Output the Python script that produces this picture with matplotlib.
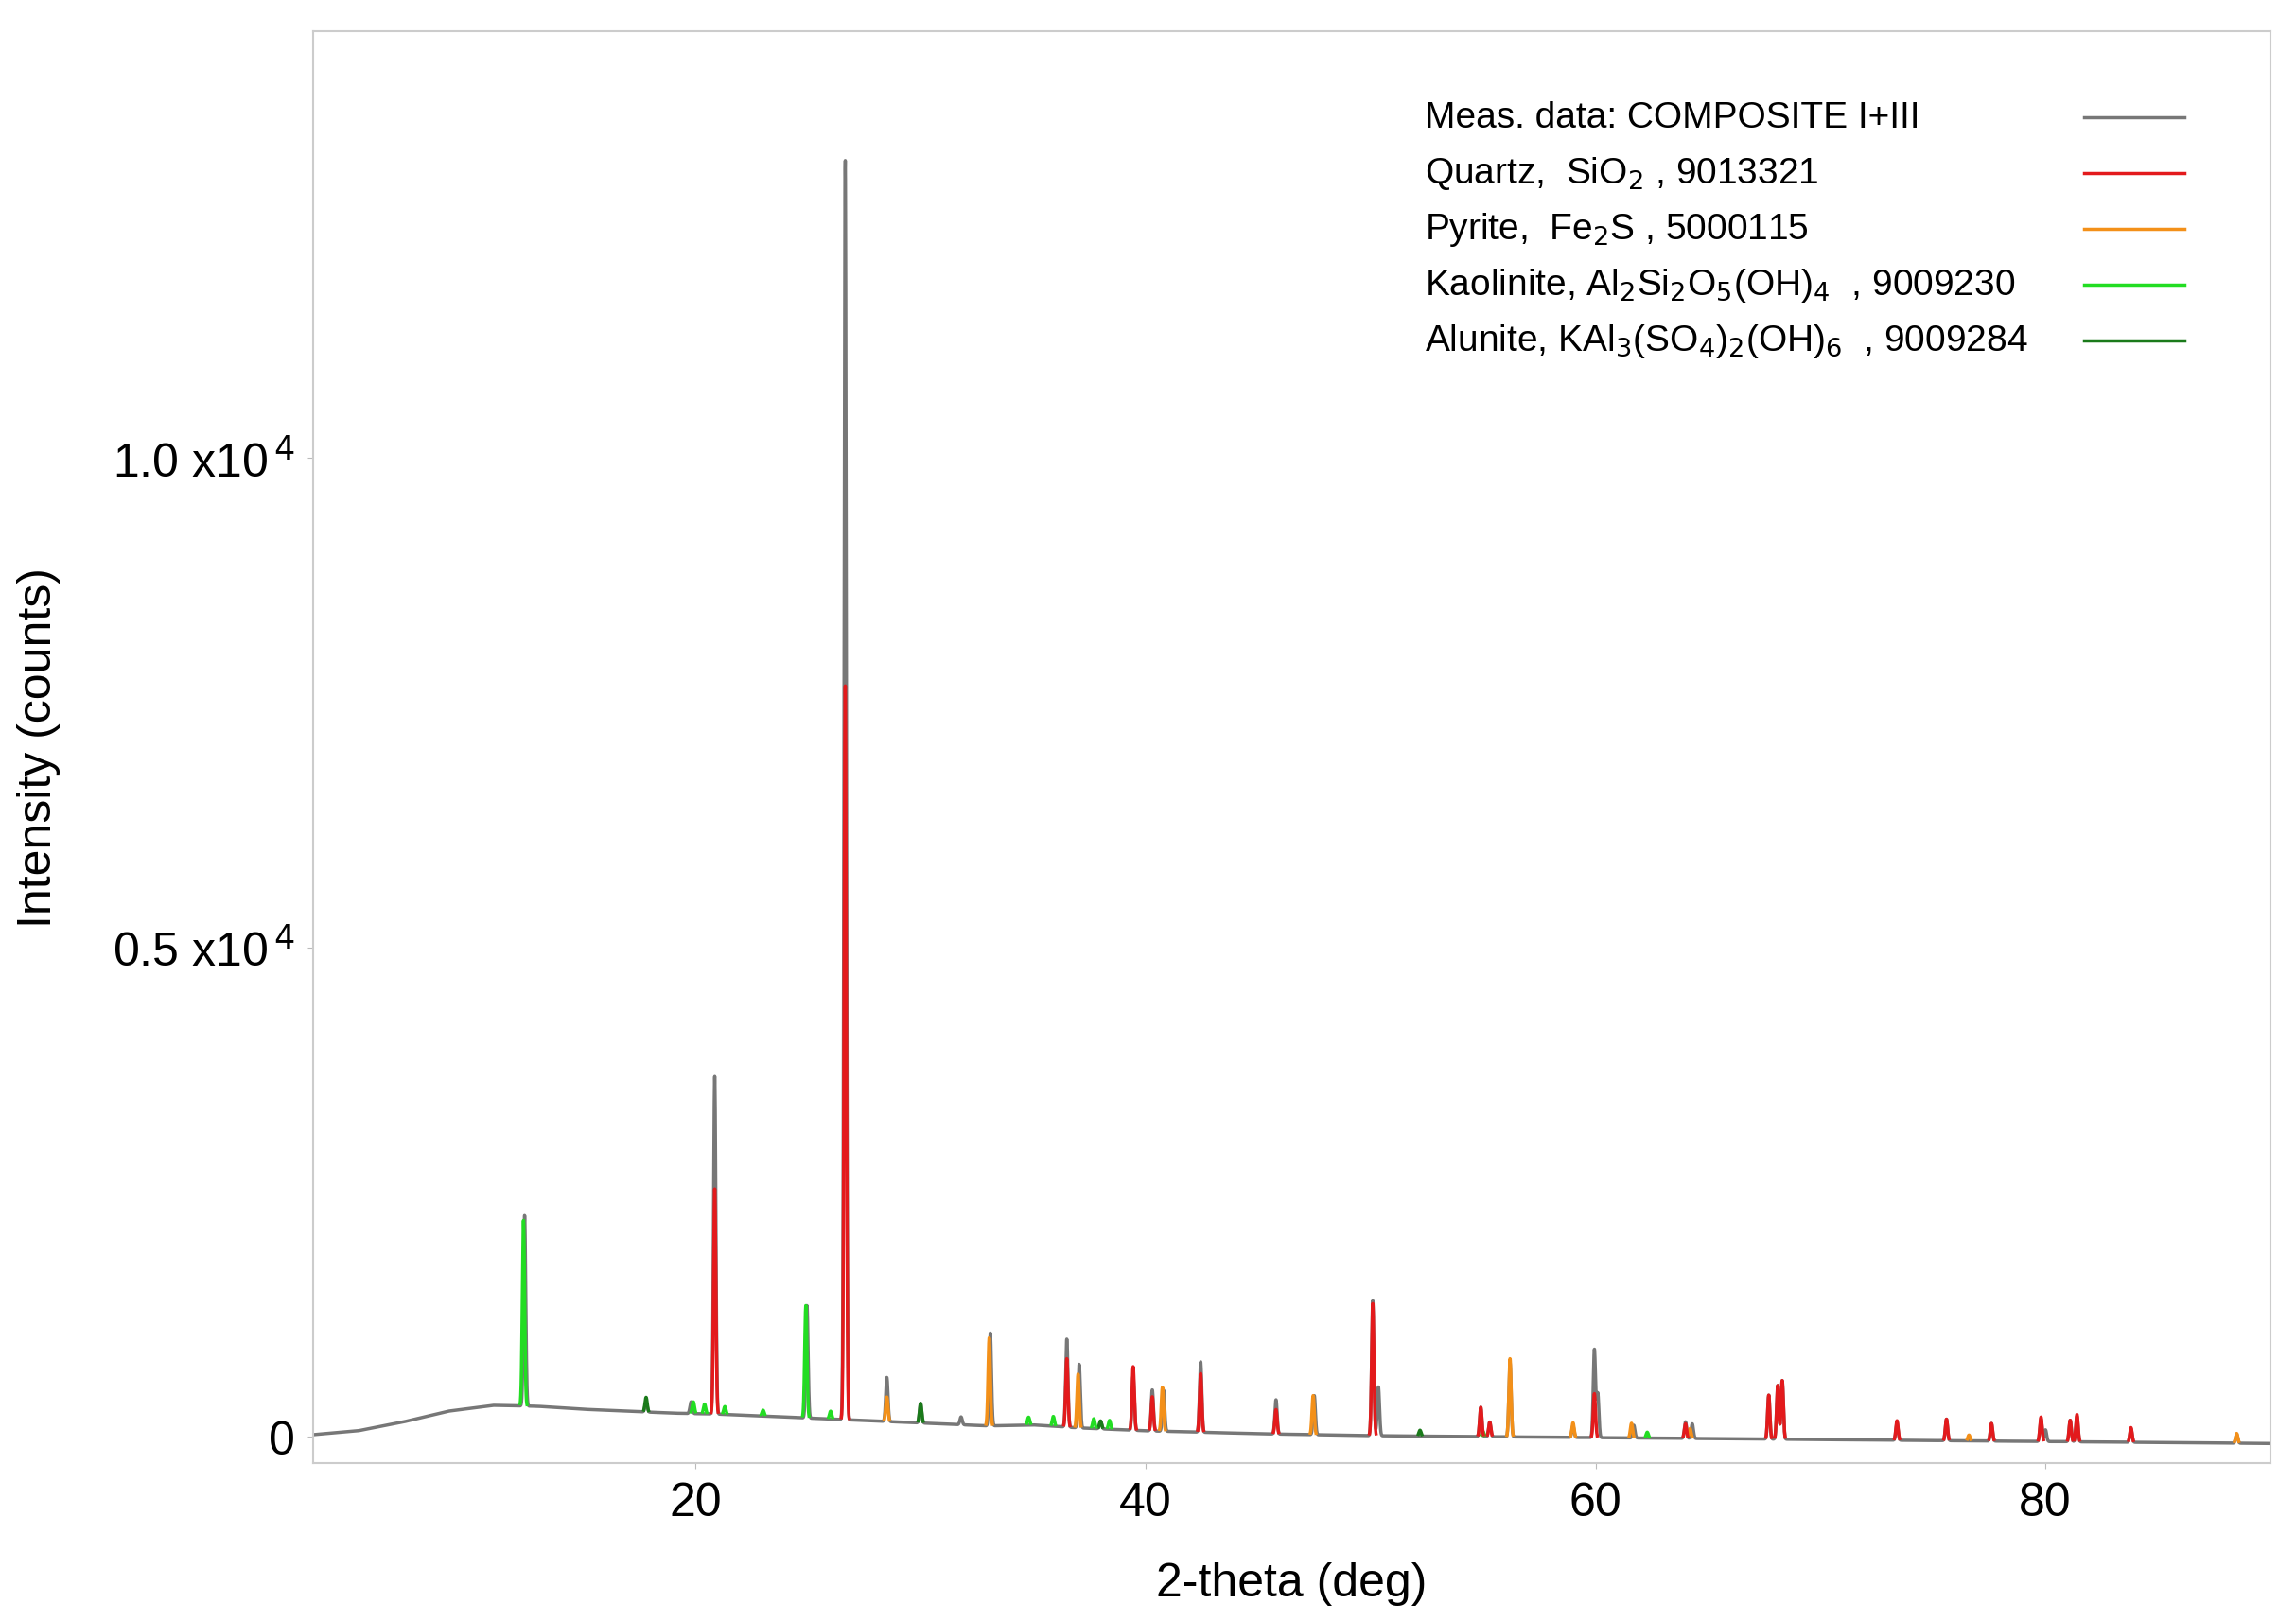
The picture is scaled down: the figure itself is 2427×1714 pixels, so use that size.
import numpy as np
import matplotlib
matplotlib.use("Agg")
import matplotlib.pyplot as plt

plt.rcParams['font.family'] = ['Liberation Sans', 'DejaVu Sans']

# Background anchor points of measured pattern (2theta, counts)
bg_x = [3, 5, 7, 9, 11, 13, 15, 17, 19, 21, 23, 25, 27, 29, 31, 33, 35, 37, 40, 45, 50, 55, 60, 65, 70, 75, 80, 85, 90]
bg_y = [20, 60, 150, 260, 320, 310, 280, 260, 240, 230, 210, 190, 170, 150, 130, 110, 120, 90, 60, 30, 10, 0, -10, -20, -30, -40, -50, -60, -70]

# Measured peaks: position, height above background
meas_pos = [12.4, 17.8, 19.8, 20.85, 24.95, 26.65, 28.5, 30.0, 31.8, 33.1, 36.5, 37.05, 38.0, 39.45, 40.3, 40.8, 42.45, 45.8, 47.5, 50.1, 50.35, 54.9, 55.3, 56.2, 59.0, 59.95, 60.1, 61.7, 64.0, 64.3, 67.7, 68.1, 68.3, 73.4, 75.6, 77.6, 79.8, 80.0, 81.1, 81.4, 83.8, 88.5]
meas_h = [1950, 100, 120, 3450, 1150, 12870, 450, 200, 80, 950, 900, 650, 80, 560, 420, 420, 720, 350, 400, 1380, 500, 300, 150, 760, 120, 900, 450, 130, 170, 150, 450, 550, 600, 180, 220, 180, 230, 120, 220, 260, 140, 90]

# Reference phases: (positions, heights)
quartz_pos = [20.85, 26.65, 36.5, 39.45, 40.3, 42.45, 45.8, 50.1, 54.9, 55.3, 59.95, 64.0, 67.7, 68.1, 68.3, 73.4, 75.6, 77.6, 79.8, 81.1, 81.4, 83.8]
quartz_h = [2300, 7500, 700, 650, 350, 600, 250, 1350, 300, 150, 450, 150, 450, 550, 600, 200, 220, 180, 250, 220, 280, 150]
pyrite_pos = [28.5, 33.05, 37.0, 40.75, 47.45, 56.2, 59.0, 61.6, 64.2, 76.6, 88.5]
pyrite_h = [250, 900, 550, 450, 400, 800, 150, 150, 100, 60, 100]
kaol_pos = [12.35, 19.9, 20.4, 21.3, 23.0, 24.9, 26.0, 34.8, 35.9, 37.7, 38.4, 55.0, 62.3]
kaol_h = [1900, 120, 100, 80, 60, 1150, 80, 80, 100, 100, 90, 50, 60]
alun_pos = [17.8, 30.0, 38.0, 52.2]
alun_h = [150, 200, 80, 60]

x = np.linspace(3, 90, 12000)

def profile(pos, h, w=0.05):
    y = np.zeros_like(x)
    for p, a in zip(pos, h):
        y += a * np.exp(-0.5 * ((x - p) / w) ** 2)
    return y

bg = np.interp(x, bg_x, bg_y)
meas = bg + profile(meas_pos, meas_h)

def phase(pos, h):
    p = profile(pos, h)
    y = bg + p
    y[p < 15] = np.nan
    return y

fig = plt.figure(figsize=(24.27, 17.15), dpi=100)
ax = fig.add_axes([331/2427, 1 - 1548/1715, (2400-331)/2427, (1548-34)/1715])

ax.plot(x, meas, color='#777777', lw=2.5, zorder=1)
ax.plot(x, phase(alun_pos, alun_h), color='#1a7a1a', lw=2.5, zorder=2)
ax.plot(x, phase(kaol_pos, kaol_h), color='#22dd22', lw=2.5, zorder=2)
ax.plot(x, phase(pyrite_pos, pyrite_h), color='#f39019', lw=2.5, zorder=2)
ax.plot(x, phase(quartz_pos, quartz_h), color='#e31a1c', lw=2.5, zorder=3)

ax.set_xlim(3, 90)
ax.set_ylim(-270, 14360)
ax.set_xticks([20, 40, 60, 80])
ax.set_yticks([0, 5000, 10000])
ax.set_yticklabels(['0', r'0.5 x10$^{\,4}$', r'1.0 x10$^{\,4}$'])
ax.tick_params(labelsize=36, length=4, color='#bbbbbb', pad=10)
for s in ax.spines.values():
    s.set_color('#cccccc')
    s.set_linewidth(1.5)
ax.set_xlabel('2-theta (deg)', fontsize=36, labelpad=28)
ax.set_ylabel('Intensity (counts)', fontsize=36, labelpad=40)

labels = [r'Meas. data: COMPOSITE I+III', r'Quartz,  SiO$_2$ , 9013321', r'Pyrite,  Fe$_2$S , 5000115',
          r'Kaolinite, Al$_2$Si$_2$O$_5$(OH)$_4$  , 9009230', r'Alunite, KAl$_3$(SO$_4$)$_2$(OH)$_6$  , 9009284']
colors = ['#777777', '#e31a1c', '#f39019', '#22dd22', '#1a7a1a']
ys = [0.940, 0.901, 0.862, 0.823, 0.784]
for lab, c, yy in zip(labels, colors, ys):
    ax.text(0.568, yy, lab, transform=ax.transAxes, fontsize=28, va='center')
    ax.plot([0.905, 0.956], [yy, yy], transform=ax.transAxes, color=c, lw=2.5)

fig.savefig('out.png', dpi=100)
